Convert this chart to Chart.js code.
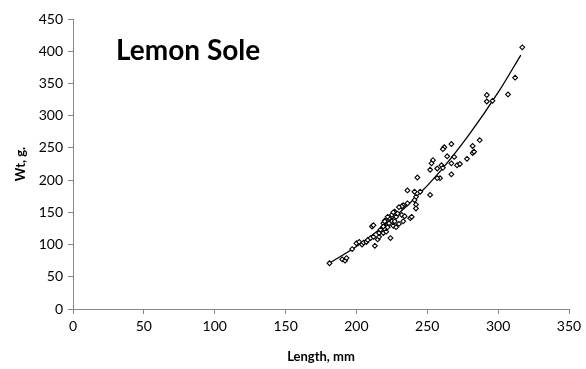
<!DOCTYPE html>
<html>
<head>
<meta charset="utf-8">
<script src="https://cdn.jsdelivr.net/npm/chart.js@4"></script>
<style>
  html, body { margin: 0; padding: 0; background: #fff; }
  #wrap { width: 586px; height: 369px; }
</style>
</head>
<body>
<div id="wrap"><canvas id="myChart"></canvas></div>
<script>
const lengths = [181, 190, 192, 193, 197, 200, 202, 204, 205, 207, 208, 210, 212, 213, 211, 212,
    215, 216, 216, 217, 219, 220, 221, 219, 220, 222, 225, 223, 220, 223, 227, 230, 233, 238,
    219, 222, 226, 228, 227, 229, 225, 222, 228, 232, 234, 239, 236, 233, 232, 242, 242, 236,
    241, 245, 252, 242, 241, 243, 254, 253, 260, 257, 267, 271, 267, 252, 259, 257, 261, 262,
    261, 264, 269, 267, 273, 278, 282, 283, 282, 287, 292, 292, 296, 307, 312, 317, 224, 226, 230]
const weights = [71, 77, 75, 79, 93, 102, 104, 100, 103, 104, 107, 110, 112, 98, 128, 130,
    108, 112, 118, 123, 118, 124, 120, 133, 137, 130, 136, 141, 136, 133, 136, 132, 136, 141,
    128, 127, 129, 127, 151, 148, 146, 143, 143, 146, 144, 143, 164, 161, 159, 162, 156, 184,
    182, 182, 177, 174, 169, 204, 231, 226, 223, 218, 226, 223, 209, 216, 203, 203, 219, 251,
    248, 237, 236, 256, 225, 233, 242, 244, 253, 262, 332, 322, 323, 333, 359, 406, 110, 150, 158]

// power trend line
const trendX = [180, 200, 220, 240, 260, 280, 300, 316]
const trendY = [70, 97, 130, 169, 216, 272, 336, 394]

const xTicks = [0, 50, 100, 150, 200, 250, 300, 350]
const yTicks = [0, 50, 100, 150, 200, 250, 300, 350, 400, 450]

const chartTitle = 'Lemon Sole'

const ctx = document.getElementById('myChart');

const titleInside = {
    id: 'titleInside',
    afterDraw(chart) {
        const c = chart.ctx
        c.save()
        c.font = 'bold 28px Lato'
        c.fillStyle = '#000'
        c.textBaseline = 'middle'
        c.fillText(chartTitle, chart.chartArea.left + 43, chart.chartArea.top + 32)
        c.restore()
    }
}

const axisColor = '#868686'
const tickFont = { family: 'Lato', size: 14 }
const titleFont = { family: 'Lato', size: 13, weight: 'bold' }

new Chart(ctx, {
    type: 'scatter',
    data: {
        datasets: [{
            label: 'Trend',
            data: trendX.map((x, i) => ({ x: x, y: trendY[i] })),
            showLine: true,
            borderColor: '#000',
            borderWidth: 1.3,
            pointRadius: 0,
            tension: 0.4,
            cubicInterpolationMode: 'monotone',
            order: 1
        }, {
            label: 'Fish',
            data: lengths.map((x, i) => ({ x: x, y: weights[i] })),
            pointStyle: 'rectRot',
            pointRadius: 2.4,
            pointBackgroundColor: '#fff',
            pointBorderColor: '#000',
            pointBorderWidth: 1.1,
            order: 0
        }]
    },
    options: {
        responsive: true,
        maintainAspectRatio: false,
        animation: false,
        layout: { padding: { top: 19, right: 17, left: 9, bottom: 0 } },
        plugins: {
            legend: { display: false },
            tooltip: { enabled: false }
        },
        scales: {
            x: {
                type: 'linear',
                min: 0,
                max: 350,
                afterBuildTicks: s => { s.ticks = xTicks.map(v => ({ value: v })) },
                afterFit: s => { s.height = 60 },
                border: { color: axisColor, width: 1 },
                grid: { drawOnChartArea: false, color: axisColor, tickLength: 5 },
                ticks: { color: '#000', font: tickFont, padding: 4, maxRotation: 0 },
                title: { display: true, text: 'Length, mm', color: '#000', font: titleFont, padding: { top: 4 } }
            },
            y: {
                type: 'linear',
                min: 0,
                max: 450,
                afterBuildTicks: s => { s.ticks = yTicks.map(v => ({ value: v })) },
                afterFit: s => { s.width = 64 },
                border: { color: axisColor, width: 1 },
                grid: { drawOnChartArea: false, color: axisColor, tickLength: 5 },
                ticks: { color: '#000', font: tickFont, padding: 5 },
                title: { display: true, text: 'Wt, g.', color: '#000', font: titleFont, padding: { bottom: 2 } }
            }
        }
    },
    plugins: [titleInside]
});
</script>
</body>
</html>
